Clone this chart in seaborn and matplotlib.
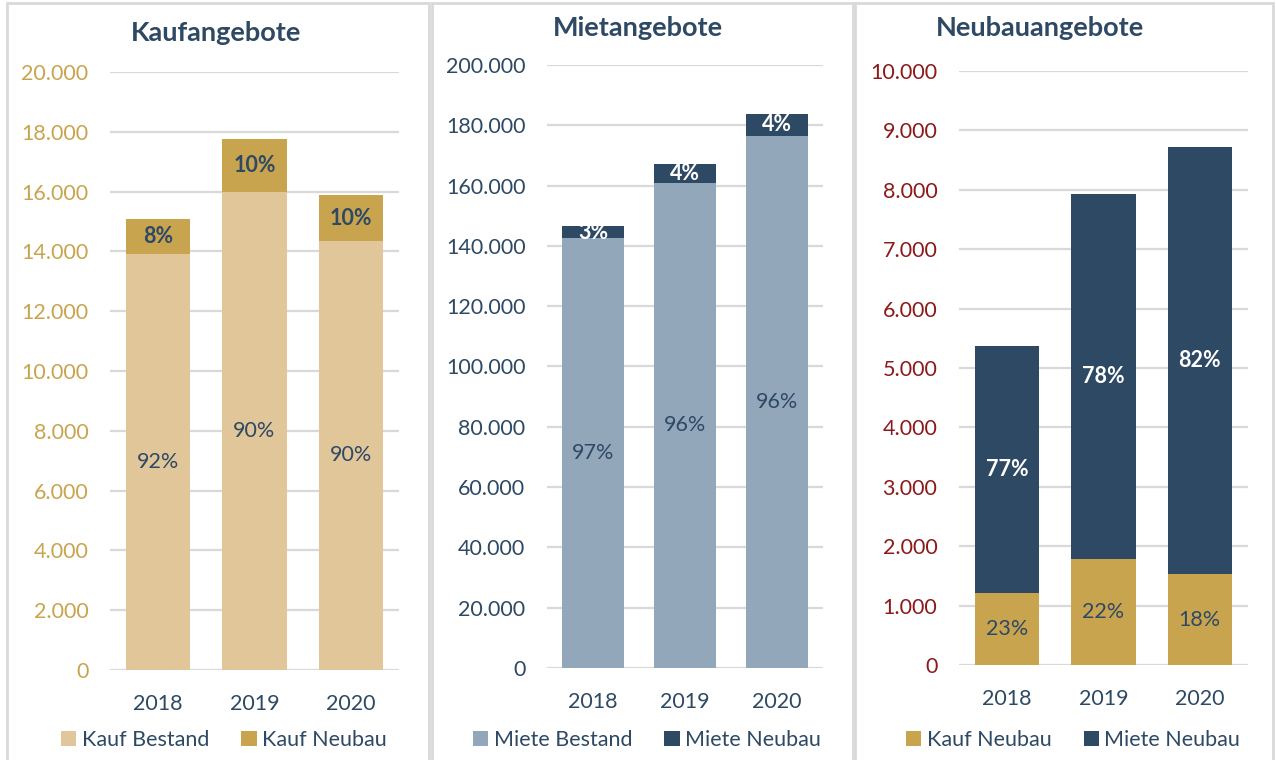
import numpy as np
import pandas as pd
import matplotlib
matplotlib.use("Agg")
import matplotlib.pyplot as plt
from matplotlib.patches import Rectangle, Patch
from matplotlib.ticker import FuncFormatter
import seaborn as sns

# Data
years = ["2018", "2019", "2020"]

kauf_bestand = [13900, 16000, 14350]
kauf_neubau = [1200, 1750, 1520]
kauf_bestand_pct = ["92%", "90%", "90%"]
kauf_neubau_pct = ["8%", "10%", "10%"]

miete_bestand = [142600, 160900, 176500]
miete_neubau = [4000, 6300, 7200]
miete_bestand_pct = ["97%", "96%", "96%"]
miete_neubau_pct = ["3%", "4%", "4%"]

neubau_kauf = [1210, 1780, 1530]
neubau_miete = [4160, 6150, 7190]
neubau_kauf_pct = ["23%", "22%", "18%"]
neubau_miete_pct = ["77%", "78%", "82%"]

titles = ["Kaufangebote", "Mietangebote", "Neubauangebote"]

# Colours
NAVY = "#2E4964"
GOLD = "#C9A44F"
SAND = "#E0C699"
GREYBLUE = "#93A7BB"
DARKRED = "#8B1A1A"
GRID = "#D9D9D9"
FS = 15.5

sns.set_theme(style="white")
plt.rcParams["font.family"] = ["Lato", "DejaVu Sans"]

fig = plt.figure(figsize=(12.76, 7.6), dpi=100)
W, H = 1276, 760


def px_axes(left, top, right, bottom):
    return fig.add_axes([left / W, 1 - bottom / H, (right - left) / W, (bottom - top) / H])


def de_fmt(v, pos):
    return f"{int(round(v)):,}".replace(",", ".")


def draw_panel(ax, lower, upper, c_low, c_up, lab_low, lab_up, col_low, col_up,
               ymax, step, tick_col, title, names, title_xy, leg_x):
    totals = [a + b for a, b in zip(lower, upper)]
    df_tot = pd.DataFrame({"year": years, "value": totals})
    df_low = pd.DataFrame({"year": years, "value": lower})
    sns.barplot(data=df_tot, x="year", y="value", color=c_up, saturation=1,
                width=0.67, ax=ax, zorder=3, linewidth=0, edgecolor="none")
    sns.barplot(data=df_low, x="year", y="value", color=c_low, saturation=1,
                width=0.67, ax=ax, zorder=3, linewidth=0, edgecolor="none")
    for i in range(len(years)):
        ax.text(i, lower[i] / 2, lab_low[i], ha="center", va="center", fontsize=FS,
                color=col_low, zorder=5)
        ax.text(i, lower[i] + upper[i] / 2, lab_up[i], ha="center", va="center",
                fontsize=FS, color=col_up, fontweight="bold", zorder=5)
    ax.set_ylim(0, ymax)
    ax.set_xlim(-0.5, 2.5)
    ax.set_yticks(np.arange(0, ymax + 1, step))
    ax.yaxis.set_major_formatter(FuncFormatter(de_fmt))
    ax.grid(axis="y", color=GRID, linewidth=1.6, zorder=0)
    ax.set_axisbelow(True)
    for s in ax.spines.values():
        s.set_visible(False)
    ax.tick_params(axis="y", length=0, pad=15.5, labelsize=FS, labelcolor=tick_col)
    ax.tick_params(axis="x", length=0, pad=17, labelsize=FS, labelcolor=NAVY)
    ax.set_xlabel("")
    ax.set_ylabel("")
    fig.text(title_xy[0] / W, 1 - title_xy[1] / H, title, ha="center", va="center",
             fontsize=19.5, fontweight="bold", color=NAVY)
    handles = [Patch(facecolor=c_low, edgecolor="none"), Patch(facecolor=c_up, edgecolor="none")]
    fig.legend(handles, names, loc="center", bbox_to_anchor=(leg_x / W, 1 - 740 / H),
               ncol=2, frameon=False, fontsize=FS, handlelength=0.7, handleheight=0.7,
               handletextpad=0.25, columnspacing=1.5, labelcolor=NAVY)


ax1 = px_axes(110, 72, 399, 670)
draw_panel(ax1, kauf_bestand, kauf_neubau, SAND, GOLD, kauf_bestand_pct, kauf_neubau_pct,
           NAVY, NAVY, 20000, 2000, GOLD, titles[0],
           ["Kauf Bestand", "Kauf Neubau"], (216, 33), 224)

ax2 = px_axes(547, 65, 823, 668)
draw_panel(ax2, miete_bestand, miete_neubau, GREYBLUE, NAVY, miete_bestand_pct,
           miete_neubau_pct, NAVY, "white", 200000, 20000, NAVY, titles[1],
           ["Miete Bestand", "Miete Neubau"], (638, 28), 647)

ax3 = px_axes(959, 71, 1248, 665)
draw_panel(ax3, neubau_kauf, neubau_miete, GOLD, NAVY, neubau_kauf_pct, neubau_miete_pct,
           NAVY, "white", 10000, 1000, DARKRED, titles[2],
           ["Kauf Neubau", "Miete Neubau"], (1040, 28), 1073)

# panel frames
for x0, x1 in [(7, 429), (432, 853), (855, 1273)]:
    fig.patches.append(Rectangle((x0 / W, -0.01), (x1 - x0) / W, 1 - 3 / H + 0.01,
                                 transform=fig.transFigure, fill=False,
                                 edgecolor=GRID, linewidth=2))

fig.savefig("out.png", dpi=100)
